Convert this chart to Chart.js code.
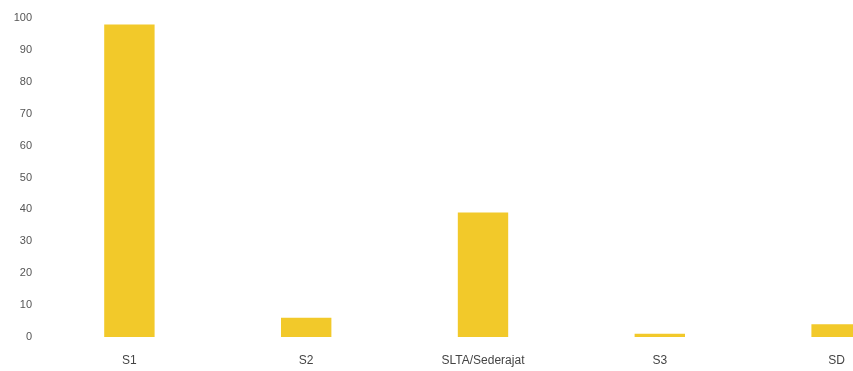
<!DOCTYPE html>
<html>
<head>
<meta charset="utf-8">
<script src="https://cdn.jsdelivr.net/npm/chart.js@4.4.0/dist/chart.umd.min.js"></script>
<style>
  html, body { margin: 0; padding: 0; background: #fff; overflow: hidden; }
  #wrap { position: absolute; left: 0; top: 0; width: 925px; height: 371px; }
</style>
</head>
<body>
<div id="wrap"><canvas id="grafik"></canvas></div>
<script>
const kategori = ['S1', 'S2', 'SLTA/Sederajat', 'S3', 'SD'];
const jumlah = [98, 6, 39, 1, 4];
const tickY = [0, 10, 20, 30, 40, 50, 60, 70, 80, 90, 100];

const grafik = document.getElementById('grafik');

new Chart(grafik, {
  type: 'bar',
  data: {
    labels: kategori,
    datasets: [{
      data: jumlah,
      backgroundColor: '#F2C92A',
      barPercentage: 0.57,
      categoryPercentage: 0.5
    }]
  },
  options: {
    responsive: true,
    maintainAspectRatio: false,
    animation: false,
    layout: { padding: { top: 18, left: 0, right: 0, bottom: 0 } },
    plugins: {
      legend: { display: false },
      tooltip: { enabled: false }
    },
    scales: {
      x: {
        grid: { display: false },
        border: { display: false },
        ticks: { color: '#444', font: { family: 'Arial', size: 12 }, padding: 8 },
        afterFit: function (s) { s.height = 34; }
      },
      y: {
        min: 0,
        max: 100,
        afterBuildTicks: function (s) { s.ticks = tickY.map(v => ({ value: v })); },
        grid: { display: false },
        border: { display: false },
        ticks: { color: '#555', font: { family: 'Arial', size: 11 }, padding: 1 },
        afterFit: function (s) { s.width = 41; }
      }
    }
  }
});
</script>
</body>
</html>
